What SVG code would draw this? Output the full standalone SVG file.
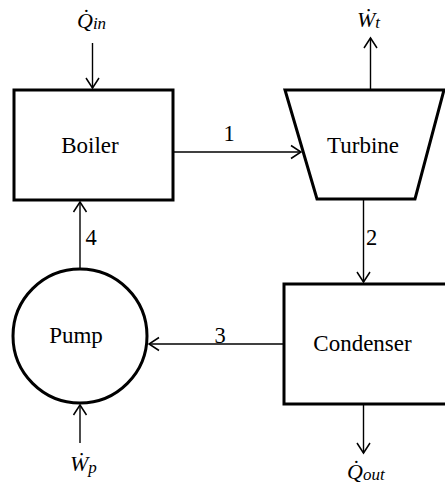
<svg xmlns="http://www.w3.org/2000/svg" width="445" height="486" viewBox="0 0 445 486">
<defs>
<marker id="arr" viewBox="-12 -8 14 16" refX="0" refY="0" markerWidth="14" markerHeight="16" markerUnits="userSpaceOnUse" orient="auto">
<path d="M-10,-6.5 L0,0 L-10,6.5" fill="none" stroke="#000" stroke-width="1.5"/>
</marker>
<style>
.box{fill:#fff;stroke:#000;stroke-width:3}
.lbl{font-family:"Liberation Serif",serif;font-size:23px;text-anchor:middle;fill:#000}
.num{font-family:"Liberation Serif",serif;font-size:22.5px;text-anchor:middle;fill:#000}
.m{font-family:"Liberation Serif",serif;font-style:italic;font-size:22px;fill:#000}
.s{font-size:17px}
.ln{fill:none;stroke:#000;stroke-width:1.4;marker-end:url(#arr)}
</style>
</defs>
<g id="connectors">
<line class="ln" x1="92.5" y1="43" x2="92.5" y2="88"/>
<line class="ln" x1="370.5" y1="90" x2="370.5" y2="38"/>
<line class="ln" x1="174" y1="152" x2="301" y2="152"/>
<line class="ln" x1="363.5" y1="199" x2="363.5" y2="282"/>
<line class="ln" x1="283" y1="344" x2="149" y2="344"/>
<line class="ln" x1="80" y1="268" x2="80" y2="202"/>
<line class="ln" x1="80" y1="443" x2="80" y2="405"/>
<line class="ln" x1="363.5" y1="404" x2="363.5" y2="453"/>
<text class="num" x="229" y="141">1</text>
<text class="num" x="371.5" y="245">2</text>
<text class="num" x="220" y="343">3</text>
<text class="num" x="91" y="245">4</text>
</g>
<g id="boiler">
<rect class="box" x="14" y="90" width="159" height="110"/>
<text class="lbl" x="90" y="153">Boiler</text>
</g>
<g id="turbine">
<polygon class="box" points="285,90 444,90 415,199 317,199"/>
<text class="lbl" x="363" y="153">Turbine</text>
</g>
<g id="condenser">
<rect class="box" x="284" y="284" width="164" height="120"/>
<text class="lbl" x="362.5" y="351">Condenser</text>
</g>
<g id="pump">
<circle class="box" cx="80" cy="336" r="67"/>
<text class="lbl" x="76" y="343">Pump</text>
</g>
<g id="q-in">
<text class="m" x="77" y="28">Q&#x307;<tspan class="s" dy="1">in</tspan></text>
</g>
<g id="w-t">
<text class="m" x="357" y="27">W&#x307;<tspan class="s" dy="1">t</tspan></text>
</g>
<g id="w-p">
<text class="m" x="70" y="471">W&#x307;<tspan class="s" dy="2">p</tspan></text>
</g>
<g id="q-out">
<text class="m" x="347" y="479">Q&#x307;<tspan class="s" dy="1">out</tspan></text>
</g>
</svg>
